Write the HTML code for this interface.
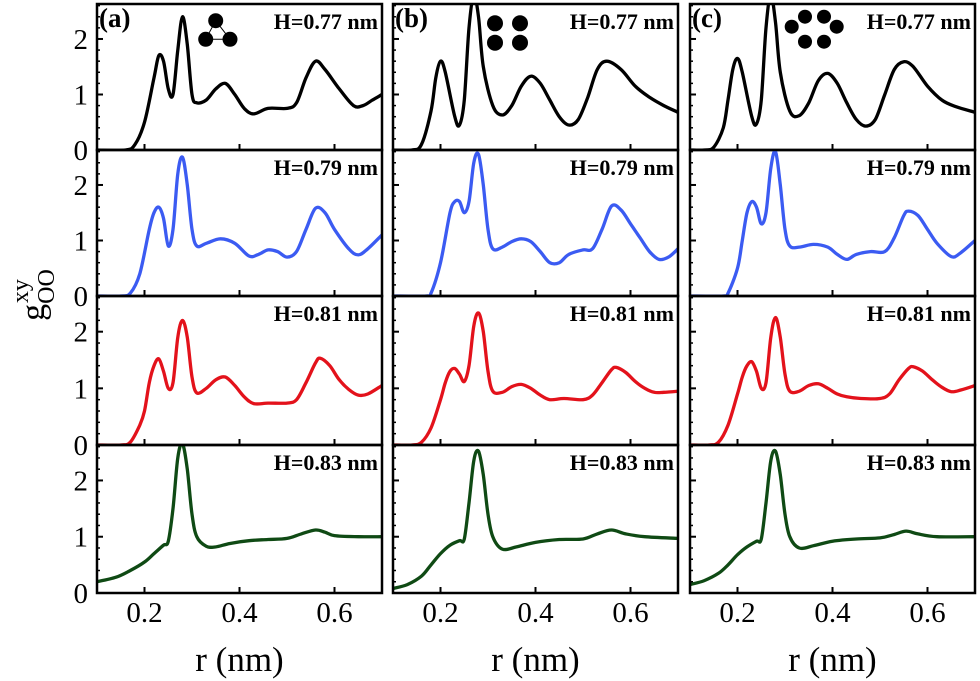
<!DOCTYPE html>
<html><head><meta charset="utf-8"><style>
html,body{margin:0;padding:0;background:#fff;}
svg{display:block;font-family:"Liberation Serif",serif;}
</style></head><body>
<svg id="chart" width="980" height="681" viewBox="0 0 980 681" xmlns="http://www.w3.org/2000/svg"></svg>
<script>
const colLabels = ["(a)","(b)","(c)"];
const rowLabels = ["H=0.77 nm","H=0.79 nm","H=0.81 nm","H=0.83 nm"];
const rowColors = ["#000000","#3b5bf2","#e3121b","#0f4a14"];
const xTicks = [0.2,0.4,0.6];
const yTicks = [0,1,2];
const a1 = [[0.10,0],[0.16,0],[0.18,0.1],[0.20,0.5],[0.22,1.3],[0.23,1.7],[0.24,1.6],[0.25,1.1],[0.26,1.0],[0.27,1.8],[0.28,2.4],[0.29,1.9],[0.30,1.0],[0.31,0.85],[0.33,0.9],[0.35,1.1],[0.37,1.2],[0.39,1.0],[0.41,0.75],[0.43,0.65],[0.46,0.75],[0.50,0.75],[0.52,0.85],[0.54,1.3],[0.56,1.6],[0.58,1.45],[0.61,1.1],[0.64,0.8],[0.66,0.8],[0.68,0.9],[0.70,1.0]];
const b1 = [[0.10,0],[0.14,0],[0.16,0.1],[0.18,0.7],[0.19,1.3],[0.20,1.6],[0.21,1.4],[0.23,0.6],[0.24,0.45],[0.25,0.9],[0.26,2.2],[0.27,2.8],[0.28,2.4],[0.29,1.5],[0.31,0.8],[0.33,0.63],[0.35,0.8],[0.37,1.15],[0.39,1.33],[0.41,1.2],[0.43,0.9],[0.45,0.6],[0.47,0.45],[0.49,0.55],[0.51,0.95],[0.53,1.45],[0.55,1.6],[0.58,1.45],[0.61,1.15],[0.64,0.95],[0.67,0.8],[0.70,0.68]];
const c1 = [[0.10,0],[0.13,0],[0.15,0.05],[0.17,0.4],[0.18,0.9],[0.19,1.45],[0.20,1.65],[0.21,1.4],[0.23,0.6],[0.24,0.47],[0.25,0.9],[0.26,2.2],[0.27,2.8],[0.28,2.3],[0.29,1.4],[0.31,0.7],[0.33,0.62],[0.35,0.85],[0.37,1.25],[0.39,1.38],[0.41,1.2],[0.43,0.85],[0.45,0.55],[0.47,0.43],[0.49,0.55],[0.51,1.0],[0.53,1.45],[0.55,1.59],[0.57,1.5],[0.60,1.15],[0.63,0.9],[0.66,0.78],[0.70,0.68]];
const a2 = [[0.10,0],[0.15,0],[0.17,0.05],[0.19,0.4],[0.21,1.2],[0.22,1.5],[0.23,1.6],[0.24,1.4],[0.25,0.9],[0.26,1.2],[0.27,2.2],[0.28,2.5],[0.29,2.0],[0.30,1.2],[0.31,0.9],[0.33,0.95],[0.36,1.03],[0.39,0.95],[0.42,0.72],[0.44,0.75],[0.46,0.83],[0.48,0.8],[0.50,0.7],[0.52,0.8],[0.54,1.2],[0.56,1.58],[0.58,1.5],[0.60,1.2],[0.63,0.85],[0.65,0.74],[0.67,0.85],[0.70,1.1]];
const b2 = [[0.10,0],[0.17,0],[0.18,0.05],[0.20,0.6],[0.22,1.5],[0.23,1.7],[0.24,1.7],[0.25,1.5],[0.26,1.7],[0.27,2.4],[0.28,2.55],[0.29,2.0],[0.30,1.2],[0.31,0.85],[0.33,0.88],[0.35,0.98],[0.37,1.03],[0.39,0.98],[0.41,0.8],[0.43,0.6],[0.45,0.6],[0.47,0.75],[0.50,0.83],[0.52,0.85],[0.54,1.2],[0.56,1.62],[0.58,1.55],[0.60,1.3],[0.62,1.05],[0.64,0.8],[0.66,0.66],[0.68,0.7],[0.70,0.85]];
const c2 = [[0.10,0],[0.17,0],[0.18,0.05],[0.20,0.5],[0.21,1.0],[0.22,1.5],[0.23,1.7],[0.24,1.6],[0.25,1.3],[0.26,1.5],[0.27,2.3],[0.28,2.6],[0.29,2.0],[0.30,1.2],[0.31,0.9],[0.33,0.88],[0.36,0.93],[0.39,0.88],[0.41,0.75],[0.43,0.66],[0.45,0.75],[0.48,0.8],[0.51,0.8],[0.53,1.05],[0.55,1.45],[0.56,1.53],[0.58,1.45],[0.60,1.2],[0.62,0.95],[0.65,0.71],[0.67,0.78],[0.70,1.0]];
const a3 = [[0.10,0],[0.15,0],[0.17,0.05],[0.19,0.35],[0.20,0.6],[0.21,1.1],[0.22,1.4],[0.23,1.52],[0.24,1.3],[0.25,1.0],[0.26,1.1],[0.27,1.9],[0.28,2.2],[0.29,1.9],[0.30,1.2],[0.31,0.92],[0.33,1.0],[0.35,1.15],[0.37,1.2],[0.39,1.05],[0.41,0.85],[0.43,0.73],[0.46,0.74],[0.50,0.74],[0.52,0.8],[0.54,1.1],[0.56,1.45],[0.57,1.53],[0.59,1.4],[0.61,1.15],[0.63,0.98],[0.65,0.88],[0.67,0.9],[0.70,1.05]];
const b3 = [[0.10,0],[0.14,0],[0.16,0.05],[0.18,0.3],[0.20,0.8],[0.21,1.1],[0.22,1.3],[0.23,1.35],[0.24,1.25],[0.25,1.12],[0.26,1.4],[0.27,2.1],[0.28,2.33],[0.29,2.0],[0.30,1.3],[0.31,0.95],[0.33,0.93],[0.35,1.03],[0.37,1.07],[0.39,1.0],[0.41,0.88],[0.43,0.8],[0.46,0.82],[0.50,0.8],[0.52,0.88],[0.54,1.1],[0.56,1.33],[0.57,1.37],[0.59,1.28],[0.61,1.12],[0.63,1.0],[0.65,0.93],[0.67,0.93],[0.70,0.95]];
const c3 = [[0.10,0],[0.14,0],[0.16,0.05],[0.18,0.35],[0.20,0.9],[0.21,1.2],[0.22,1.4],[0.23,1.47],[0.24,1.3],[0.25,1.0],[0.26,1.1],[0.27,1.9],[0.28,2.25],[0.29,1.9],[0.30,1.25],[0.31,0.95],[0.33,0.95],[0.35,1.05],[0.37,1.08],[0.39,1.0],[0.41,0.9],[0.43,0.85],[0.46,0.82],[0.50,0.82],[0.52,0.9],[0.54,1.15],[0.56,1.35],[0.57,1.38],[0.59,1.3],[0.61,1.15],[0.63,1.02],[0.65,0.94],[0.67,0.97],[0.70,1.05]];
const a4 = [[0.10,0.2],[0.14,0.28],[0.17,0.4],[0.20,0.55],[0.22,0.7],[0.24,0.85],[0.25,0.92],[0.26,1.5],[0.27,2.4],[0.28,2.65],[0.29,2.2],[0.30,1.4],[0.31,1.0],[0.33,0.83],[0.35,0.82],[0.38,0.88],[0.42,0.93],[0.46,0.95],[0.50,0.97],[0.53,1.05],[0.56,1.12],[0.58,1.08],[0.60,1.02],[0.65,1.0],[0.70,1.0]];
const b4 = [[0.10,0.08],[0.13,0.15],[0.16,0.3],[0.18,0.5],[0.20,0.7],[0.22,0.85],[0.24,0.93],[0.25,0.96],[0.26,1.6],[0.27,2.35],[0.28,2.52],[0.29,2.1],[0.30,1.4],[0.31,1.0],[0.33,0.78],[0.36,0.82],[0.40,0.9],[0.45,0.95],[0.50,0.96],[0.53,1.05],[0.56,1.12],[0.59,1.05],[0.63,1.0],[0.70,0.97]];
const c4 = [[0.10,0.15],[0.13,0.22],[0.16,0.35],[0.18,0.5],[0.20,0.68],[0.22,0.82],[0.24,0.92],[0.25,0.96],[0.26,1.6],[0.27,2.35],[0.28,2.52],[0.29,2.1],[0.30,1.4],[0.31,1.0],[0.33,0.8],[0.36,0.84],[0.40,0.92],[0.45,0.96],[0.50,0.98],[0.53,1.04],[0.555,1.1],[0.58,1.05],[0.62,1.0],[0.70,1.0]];
const series = [[a1,b1,c1],[a2,b2,c2],[a3,b3,c3],[a4,b4,c4]];

const NS="http://www.w3.org/2000/svg";
const svg=document.getElementById('chart');
const colX=[97,393,690], colW=285;
const rowTop=[4,150,296,445], rowBot=[150,296,445,593];
const xMin=0.1,xMax=0.7,yMax=2.63;
function xs(c,r){return colX[c]+(r-xMin)/(xMax-xMin)*colW;}
function ys(row,g){const h=rowBot[row]-rowTop[row];return rowBot[row]-g/yMax*h;}
function mk(tag,attrs,parent){const e=document.createElementNS(NS,tag);for(const k in attrs)e.setAttribute(k,attrs[k]);(parent||svg).appendChild(e);return e;}
function smooth(pts){
  let d='M'+pts[0][0].toFixed(1)+','+pts[0][1].toFixed(1);
  for(let i=0;i<pts.length-1;i++){
    const p0=pts[Math.max(0,i-1)],p1=pts[i],p2=pts[i+1],p3=pts[Math.min(pts.length-1,i+2)];
    const c1x=p1[0]+(p2[0]-p0[0])/6,c1y=p1[1]+(p2[1]-p0[1])/6;
    const c2x=p2[0]-(p3[0]-p1[0])/6,c2y=p2[1]-(p3[1]-p1[1])/6;
    d+='C'+c1x.toFixed(1)+','+c1y.toFixed(1)+' '+c2x.toFixed(1)+','+c2y.toFixed(1)+' '+p2[0].toFixed(1)+','+p2[1].toFixed(1);
  }
  return d;
}

const defs=mk('defs',{});
for(let row=0;row<4;row++)for(let c=0;c<3;c++){
  const cp=mk('clipPath',{id:'cp'+row+c},defs);
  mk('rect',{x:colX[c],y:rowTop[row],width:colW,height:rowBot[row]-rowTop[row]},cp);
}

for(let row=0;row<4;row++){
  for(let c=0;c<3;c++){
    const g=mk('g',{});
    
    
    xTicks.forEach(t=>{
      const tk=mk('line',{x1:xs(c,t),x2:xs(c,t),y1:rowBot[row],y2:rowBot[row]-6,stroke:'#000','stroke-width':2},g);
      
      
    });
    for(let v=0.2;v<yMax;v+=0.2){
      const major=Math.abs(v-Math.round(v))<0.01;
      const tk=mk('line',{x1:colX[c],x2:colX[c]+(major?6:3),y1:ys(row,v),y2:ys(row,v),stroke:'#000','stroke-width':major?2:1.5},g);
      
      
    }
    const pts=series[row][c].map(p=>[xs(c,p[0]),ys(row,p[1])]);
    const path=mk('path',{d:smooth(pts),fill:'none',stroke:rowColors[row],'stroke-width':3.3,'stroke-linejoin':'round','clip-path':'url(#cp'+row+c+')'},g);
    
    
    const fr=mk('rect',{x:colX[c],y:rowTop[row],width:colW,height:rowBot[row]-rowTop[row],fill:'none',stroke:'#000','stroke-width':2.5},g);
    
    
    const hl=mk('text',{x:colX[c]+colW-4,y:rowTop[row]+25,'text-anchor':'end','font-size':22,'font-weight':'bold'},g);
    hl.textContent=rowLabels[row];
    
    
    if(row===0){
      const pl=mk('text',{x:colX[c]+2,y:27,'font-size':27,'font-weight':'bold'},g);
      pl.textContent=colLabels[c];
      
      
    }
  }
  yTicks.forEach(t=>{
    const tl=mk('text',{x:88,y:ys(row,t)+10,'text-anchor':'end','font-size':29});
    tl.textContent=String(t);
    
    
  });
}
for(let c=0;c<3;c++){
  xTicks.forEach(t=>{
    const tl=mk('text',{x:xs(c,t),y:622,'text-anchor':'middle','font-size':29});
    tl.textContent=t.toFixed(1);
    
    
  });
  const xt=mk('text',{x:colX[c]+colW/2,y:671,'text-anchor':'middle','font-size':35});
  xt.textContent='r (nm)';
  
  
}
const insetA=[[215.7,20.7],[205.7,39.3],[230,39.3]];
const insetB=[[495,23.3],[520,23.3],[495,42.7],[520,42.7]];
const insetC=[[791.7,26.7],[805,16.7],[824,16.7],[836.7,26.7],[805,41.7],[824,41.7]];
mk('polygon',{points:insetA.map(p=>p.join(',')).join(' '),fill:'none',stroke:'#000','stroke-width':1});
[[insetA,7.5,'inset-trimer'],[insetB,8,'inset-tetramer'],[insetC,7,'inset-hexamer']].forEach(([pts,r,n])=>{
  pts.forEach(p=>{
    const ci=mk('circle',{cx:p[0],cy:p[1],r:r,fill:'#000'});
    
    
  });
});
const yt=mk('text',{transform:'translate(44,295) rotate(-90)','text-anchor':'middle','font-size':34});


yt.innerHTML='g<tspan font-size="24" dy="10">OO</tspan><tspan font-size="24" dx="-34" dy="-26">xy</tspan>';
</script>
</body></html>
